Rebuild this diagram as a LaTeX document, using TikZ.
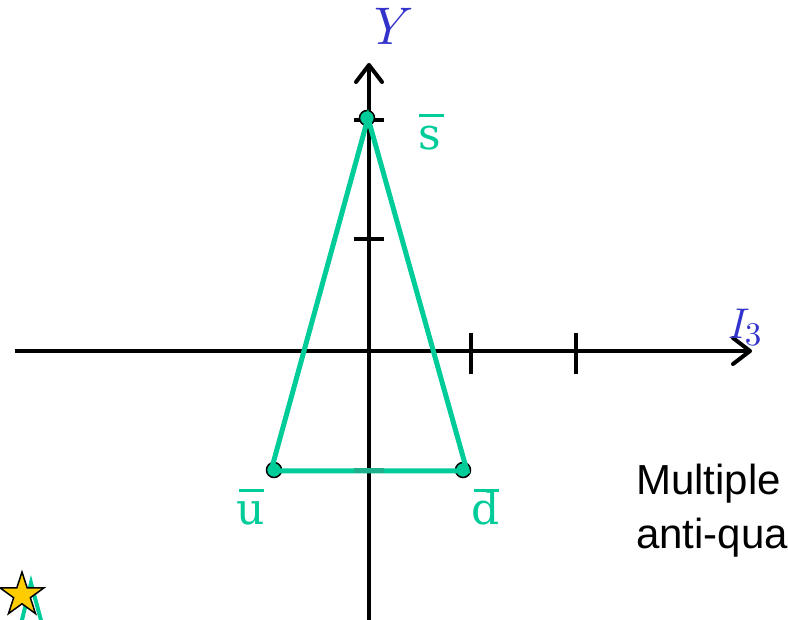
\documentclass[tikz,border=0pt]{standalone}
\usepackage{fontspec}
\usepackage{graphicx}
\newfontfamily\sansarial{Liberation Sans}
\newfontfamily\quarkfont{DejaVu Serif}
\usetikzlibrary{arrows.meta}
\definecolor{tealq}{RGB}{0,204,153}
\definecolor{tealdark}{RGB}{30,176,140}
\definecolor{axisblue}{RGB}{51,51,204}
\definecolor{staryellow}{RGB}{255,204,0}
\newcommand{\barq}[1]{\ooalign{#1\cr\hfil\rule[33pt]{25pt}{2.5pt}\hfil\cr}}
\tikzset{
  axisline/.style={line width=4pt, -{Straight Barb[length=17pt,width=26pt,line width=4pt,round]}},
  tickmark/.style={line width=4pt},
  triline/.style={tealq, line width=5pt},
  vdot/.style={circle, fill=tealq, draw=black, line width=1.5pt, minimum size=15pt, inner sep=0pt},
  axislabel/.style={text=axisblue, inner sep=0pt},
  quarklabel/.style={text=tealq, inner sep=0pt, anchor=base, font=\quarkfont\fontsize{44}{44}\selectfont},
  bodytext/.style={inner sep=0pt, anchor=base west, font=\sansarial\fontsize{42}{42}\selectfont}
}
\begin{document}
\begin{tikzpicture}[x=1pt,y=-1pt]
\useasboundingbox (0,0) rectangle (788,620);
\clip (0,0) rectangle (788,620);
% axes
\coordinate (xs) at (15,351);
\coordinate (xe) at (752,351);
\coordinate (ys) at (369,630);
\coordinate (ye) at (369,63);
\draw[axisline] (xs) -- (xe);
\draw[axisline] (ys) -- (ye);
% ticks
\draw[tickmark] (471,333) -- (471,374);
\draw[tickmark] (576,333) -- (576,374);
\draw[tickmark] (354,120) -- (384,120);
\draw[tickmark] (354,239) -- (384,239);
% vertex dots
\node[vdot] (sv) at (367,118) {};
\node[vdot] (uv) at (274,470) {};
\node[vdot] (dv) at (463,470) {};
% triangle
\coordinate (ta) at (368,118);
\coordinate (tl) at (271,471);
\coordinate (tr) at (467,471);
\draw[triline, line join=miter] (tl) -- (ta) -- (tr) -- cycle;
\draw[tealdark, line width=5pt] (354,471) -- (384,471);
% labels
\node[axislabel, anchor=base] (ylab) at (385,45) {\scalebox{5.3}{\itshape Y}};
\node[axislabel, anchor=base west] (ilab) at (727,339)
  {\scalebox{4.3}{\itshape I}\kern1pt\raisebox{-6pt}{\scalebox{3.3}{3}}};
\node[quarklabel] (slab) at (431,150) {\barq{s}};
\node[quarklabel] (ulab) at (251,525) {\barq{u}};
\node[quarklabel] (dlab) at (486,525) {\barq{d}};
% text
\node[bodytext] (t1) at (636,495) {Multiple};
\node[bodytext] (t2) at (636,548) {anti-qua};
% star logo
\draw[tealq, line width=4pt] (21,624) -- (31,583) -- (42,624);
\draw[shift={(22,595)}, fill=staryellow, draw=black, line width=1.5pt]
  (-90:23) -- (-54:8.8) -- (-18:23) -- (18:8.8) -- (54:23) -- (90:8.8)
  -- (126:23) -- (162:8.8) -- (198:23) -- (234:8.8) -- cycle;
\end{tikzpicture}
\end{document}
